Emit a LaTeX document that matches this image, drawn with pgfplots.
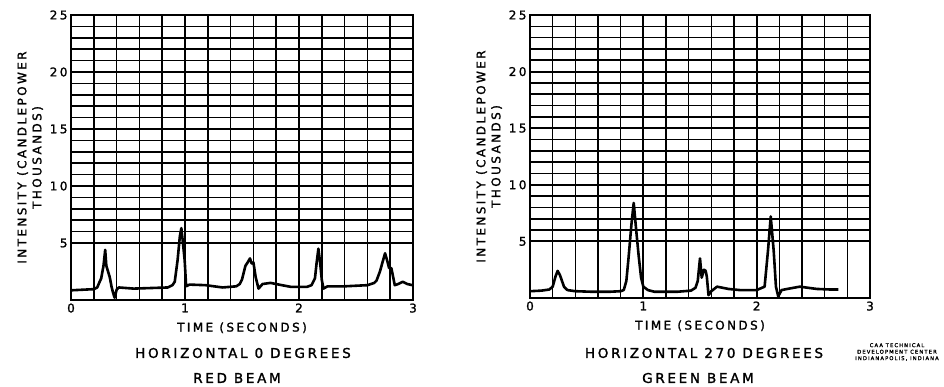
\documentclass[border=0pt]{standalone}
\usepackage{fontspec}
\setmainfont{DejaVu Sans}[LetterSpace=20, FakeBold=1.5]
\usepackage{pgfplots}
\pgfplotsset{compat=1.18}
\pgfplotsset{
  chartstyle/.style={
    anchor=south west, scale only axis,
    xmin=0, xmax=3, ymin=0, ymax=25,
    xtick={0,1,2,3}, minor x tick num=4,
    ytick={5,10,15,20,25}, minor y tick num=4,
    grid=both,
    major grid style={black, line width=2.1pt},
    minor grid style={black, line width=1.6pt},
    axis line style={black, line width=2.2pt},
    major tick length=0pt, minor tick length=0pt,
    /pgf/number format/assume math mode=true,
    tick label style={font=\fontsize{12}{14}\selectfont},
    xlabel={TIME (SECONDS)},
    ylabel={INTENSITY (CANDLEPOWER\\THOUSANDS)},
    ylabel style={align=center, font=\fontsize{12}{15}\selectfont},
    xlabel style={font=\fontsize{12}{14}\selectfont, yshift=-3pt},
  }
}
\begin{document}
\begin{tikzpicture}[x=1pt,y=1pt]
\useasboundingbox (0,0) rectangle (944,387);
\begin{axis}[chartstyle, at={(71pt,87pt)}, width=342pt, height=285pt]
\addplot[black, line width=2.6pt, line join=round] coordinates {
(0.00,0.85) (0.10,0.9) (0.20,0.95) (0.23,1.1) (0.247,1.5) (0.265,1.9) (0.285,3.0) (0.30,4.4)
(0.31,3.0) (0.325,2.5) (0.34,2.0) (0.355,1.2) (0.37,0.6) (0.383,0.2) (0.40,0.9) (0.42,1.1)
(0.55,1.0) (0.70,1.05) (0.85,1.1) (0.89,1.3) (0.91,1.6) (0.935,3.5) (0.955,5.6) (0.968,6.3)
(0.98,5.2) (0.997,3.5) (1.01,1.2) (1.04,1.35) (1.18,1.3) (1.33,1.1) (1.45,1.2) (1.48,1.4)
(1.50,1.8) (1.53,3.0) (1.55,3.3) (1.57,3.65) (1.585,3.2) (1.60,3.3) (1.62,2.0) (1.645,1.0)
(1.68,1.4) (1.75,1.5) (1.85,1.3) (1.93,1.15) (2.07,1.15) (2.11,1.3) (2.14,1.9) (2.155,3.3) (2.17,4.5)
(2.185,3.3) (2.20,1.75) (2.215,1.0) (2.25,1.2) (2.40,1.2) (2.60,1.3) (2.66,1.5) (2.68,1.7)
(2.71,2.5) (2.735,3.4) (2.755,4.1) (2.775,3.4) (2.79,2.8) (2.81,2.8) (2.84,1.3) (2.87,1.4)
(2.91,1.6) (2.95,1.4) (2.995,1.3)
};
\end{axis}
\begin{axis}[chartstyle, at={(530pt,89pt)}, width=340pt, height=283pt]
\addplot[black, line width=2.6pt, line join=round] coordinates {
(0.00,0.6) (0.10,0.65) (0.17,0.75) (0.20,1.0) (0.225,1.9) (0.244,2.4) (0.265,2.0) (0.30,1.0)
(0.33,0.7) (0.40,0.6) (0.55,0.55) (0.70,0.55) (0.80,0.6) (0.827,0.7) (0.85,1.5) (0.87,3.6)
(0.895,6.5) (0.915,8.4) (0.935,6.2) (0.96,3.6) (0.98,1.8) (1.00,1.0) (1.04,0.7) (1.10,0.55)
(1.30,0.55) (1.42,0.65) (1.46,0.9) (1.48,1.5) (1.50,3.5) (1.515,1.8) (1.535,2.5) (1.55,2.4)
(1.56,1.9) (1.575,0.25) (1.60,0.6) (1.65,1.0) (1.75,0.8) (1.85,0.7) (2.00,0.7) (2.07,1.0)
(2.10,4.2) (2.124,7.2) (2.15,4.2) (2.17,1.0) (2.19,0.15) (2.22,0.7) (2.27,0.8) (2.38,1.0)
(2.53,0.8) (2.65,0.75) (2.72,0.75)
};
\end{axis}
\node[font=\fontsize{13.5}{16}\selectfont] at (243,34) {HORIZONTAL 0 DEGREES};
\node[font=\fontsize{13.5}{16}\selectfont] at (237,9) {RED BEAM};
\node[font=\fontsize{13.5}{16}\selectfont] at (704,34) {HORIZONTAL 270 DEGREES};
\node[font=\fontsize{13.5}{16}\selectfont] at (698,9) {GREEN BEAM};
\node[font=\fontsize{5.3}{6.5}\selectfont, align=center, inner sep=0pt] at (897,35) {CAA TECHNICAL\\DEVELOPMENT CENTER\\INDIANAPOLIS, INDIANA};
\end{tikzpicture}
\end{document}
